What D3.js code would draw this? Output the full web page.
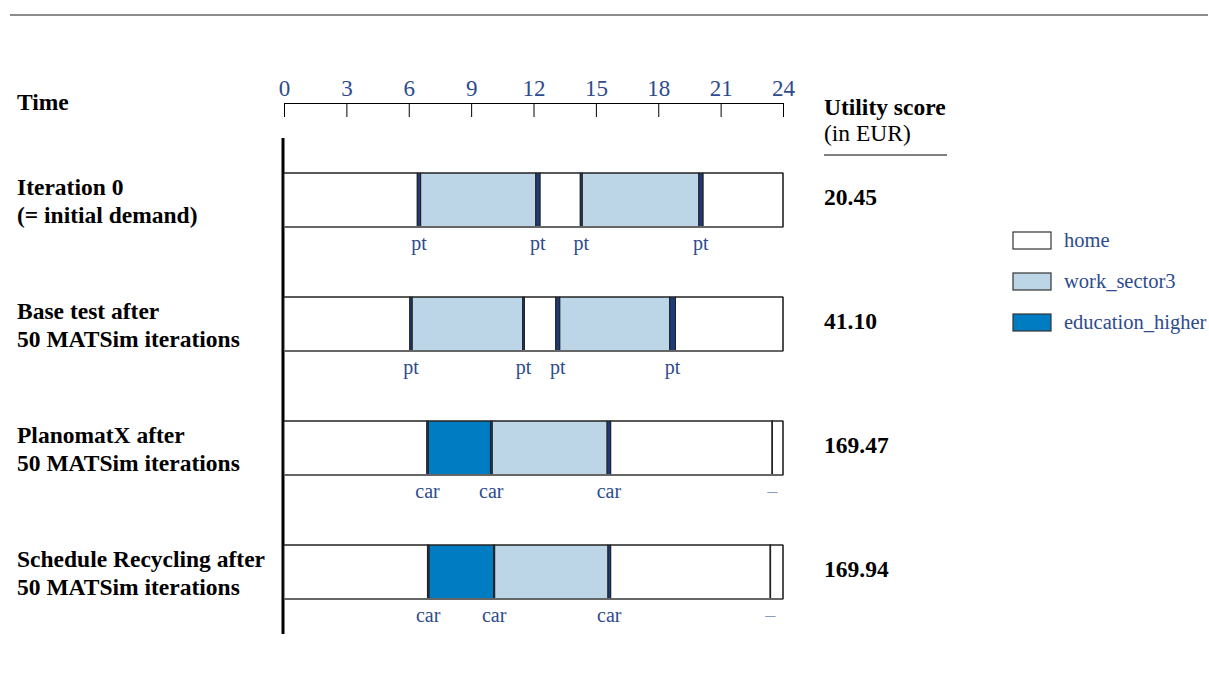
<!DOCTYPE html>
<html><head><meta charset="utf-8">
<script src="https://cdn.jsdelivr.net/npm/d3@7"></script>
<style>
html,body{margin:0;padding:0;background:#fff;}
svg{display:block;}
svg text{font-family:'Liberation Serif',serif;}
</style></head>
<body>
<svg id="chart" width="1209" height="673"></svg>
<script>
// ---- data ----
const hourTicks = [0, 3, 6, 9, 12, 15, 18, 21, 24];
const planLabels = [
  ["Iteration 0", "(= initial demand)"],
  ["Base test after", "50 MATSim iterations"],
  ["PlanomatX after", "50 MATSim iterations"],
  ["Schedule Recycling after", "50 MATSim iterations"]
];
const utilityScores = ["20.45", "41.10", "169.47", "169.94"];
const activityTypes = ["home", "work_sector3", "education_higher"];

// activities: [type, start, end] (hours)
const activitiesIter0 = [["home",0,6.41],["work_sector3",6.57,12.11],["home",12.31,14.25],["work_sector3",14.34,19.95],["home",20.15,24]];
const activitiesBase  = [["home",0,6.05],["work_sector3",6.16,11.48],["home",11.56,13.07],["work_sector3",13.26,18.55],["home",18.83,24]];
const activitiesPlanomat = [["home",0,6.87],["education_higher",6.94,9.93],["work_sector3",10.01,15.54],["home",15.71,23.47],["home",23.49,24]];
const activitiesRecycling = [["home",0,6.90],["education_higher",6.97,10.08],["work_sector3",10.13,15.58],["home",15.71,23.38],["home",23.40,24]];

// legs: [mode, start, end] (hours)
const legsIter0 = [["pt",6.41,6.57],["pt",12.11,12.31],["pt",14.25,14.34],["pt",19.95,20.15]];
const legsBase  = [["pt",6.05,6.16],["pt",11.48,11.56],["pt",13.07,13.26],["pt",18.55,18.83]];
const legsPlanomat = [["car",6.87,6.94],["car",9.93,10.01],["car",15.54,15.71],["–",23.47,23.49]];
const legsRecycling = [["car",6.90,6.97],["car",10.08,10.13],["car",15.58,15.71],["–",23.38,23.40]];

const planActivities = [activitiesIter0, activitiesBase, activitiesPlanomat, activitiesRecycling];
const planLegs = [legsIter0, legsBase, legsPlanomat, legsRecycling];

// ---- drawing ----
const FONT = "'Liberation Serif', serif";
const BIG = "23.5px";
const svg = d3.select("#chart");
const blue = "#2d4b8e";
const color = d3.scaleOrdinal().domain(activityTypes).range(["#ffffff", "#bcd6e8", "#007cc3"]);
const legColor = "#1e3a78";

const x = d3.scaleLinear().domain([0, 24]).range([284, 783]);
const rowTop = d3.scaleLinear().domain([0, 1]).range([173, 297]);
const barH = 54;

function txt(sel) { return sel.append("text").style("font-family", FONT); }

// top rule
svg.append("line").attr("x1", 10).attr("x2", 1208).attr("y1", 15).attr("y2", 15)
  .attr("stroke", "#666").attr("stroke-width", 1.5);

// axis
const axis = d3.axisTop(x).tickValues(hourTicks).tickSize(-14).tickSizeOuter(0).tickPadding(7)
  .tickFormat(d3.format("d"));
const ag = svg.append("g").attr("transform", "translate(0,103)").call(axis);
ag.select(".domain").attr("stroke", "#000");
ag.selectAll(".tick line").attr("stroke", "#000");
ag.selectAll(".tick text").attr("fill", blue).style("font-size", "23px")
  .style("font-family", FONT);

// headers
txt(svg).attr("x", 17).attr("y", 110).attr("font-weight", "bold")
  .style("font-size", BIG).text("Time");
txt(svg).attr("x", 824).attr("y", 115).attr("font-weight", "bold")
  .style("font-size", BIG).text("Utility score");
txt(svg).attr("x", 824).attr("y", 141)
  .style("font-size", BIG).text("(in EUR)");
svg.append("line").attr("x1", 824).attr("x2", 947).attr("y1", 155).attr("y2", 155)
  .attr("stroke", "#000").attr("stroke-width", 1.2);

// vertical thick line
svg.append("line").attr("x1", x(0) - 1).attr("x2", x(0) - 1).attr("y1", 138).attr("y2", 634)
  .attr("stroke", "#000").attr("stroke-width", 3);

planActivities.forEach((acts, i) => {
  const top = rowTop(i);
  const g = svg.append("g");
  // row labels
  const lbl = txt(g).attr("x", 17).attr("y", top + 22).attr("font-weight", "bold")
    .style("font-size", BIG);
  planLabels[i].forEach((l, k) => lbl.append("tspan").attr("x", 17).attr("dy", k === 0 ? 0 : 28).text(l));
  // score
  txt(g).attr("x", 824).attr("y", top + 32).attr("font-weight", "bold")
    .style("font-size", BIG).text(utilityScores[i]);
  // activity segments
  g.selectAll("rect.act").data(acts).join("rect").attr("class", "act")
    .attr("x", d => x(d[1])).attr("width", d => x(d[2]) - x(d[1]))
    .attr("y", top).attr("height", barH)
    .attr("fill", d => color(d[0])).attr("stroke", "#222").attr("stroke-width", 1);
  // legs
  const legs = planLegs[i];
  g.selectAll("rect.leg").data(legs).join("rect").attr("class", "leg")
    .attr("x", d => x(d[1])).attr("width", d => Math.max(x(d[2]) - x(d[1]), 0.5))
    .attr("y", top).attr("height", barH)
    .attr("fill", d => d[0] === "–" ? "#fff" : legColor).attr("stroke", "#222").attr("stroke-width", 1);
  // bar outline: top black, bottom gray
  g.append("line").attr("x1", x(0)).attr("x2", x(24)).attr("y1", top).attr("y2", top)
    .attr("stroke", "#222").attr("stroke-width", 1.2);
  g.append("line").attr("x1", x(0)).attr("x2", x(24)).attr("y1", top + barH).attr("y2", top + barH)
    .attr("stroke", "#666").attr("stroke-width", 1.8);
  g.append("line").attr("x1", x(24)).attr("x2", x(24)).attr("y1", top).attr("y2", top + barH)
    .attr("stroke", "#222").attr("stroke-width", 1.2);
  // leg labels
  g.selectAll("text.leglbl").data(legs).join("text").attr("class", "leglbl")
    .style("font-family", FONT)
    .attr("x", d => x((d[1] + d[2]) / 2)).attr("y", top + barH + 23)
    .attr("text-anchor", "middle").attr("fill", d => d[0] === "–" ? "#8a9cc4" : blue)
    .style("font-size", "20px").text(d => d[0]);
});

// legend
const lg = svg.append("g").attr("transform", "translate(1013,232)");
activityTypes.forEach((t, k) => {
  const row = lg.append("g").attr("transform", `translate(0,${k * 41})`);
  row.append("rect").attr("width", 38).attr("height", 17)
    .attr("fill", color(t)).attr("stroke", "#333").attr("stroke-width", 1.2);
  txt(row).attr("x", 51).attr("y", 15).attr("fill", blue)
    .style("font-size", "20.5px").text(t);
});
</script>
</body></html>
